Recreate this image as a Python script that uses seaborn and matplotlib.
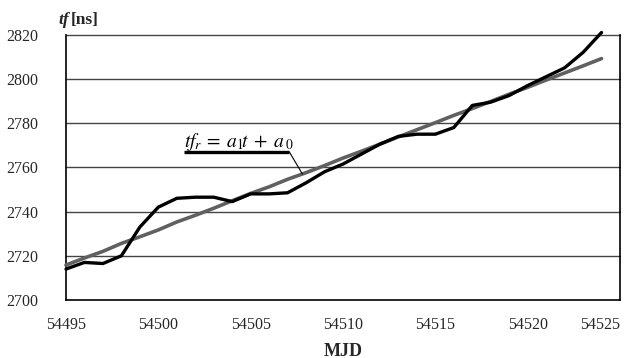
import matplotlib
matplotlib.use("Agg")
import matplotlib.pyplot as plt
import seaborn as sns
import pandas as pd

# --- dane ---
mjd = list(range(54495, 54525))
tf_measured = [2714, 2717, 2716.5, 2720, 2733, 2742, 2746, 2746.5, 2746.5, 2744.5,
               2748, 2748, 2748.5, 2753, 2758, 2761.5, 2766, 2770.5, 2774, 2775,
               2775, 2778, 2788, 2789.5, 2792.5, 2797, 2801, 2805, 2812, 2821]
tf_fit = [2715.8, 2719.0, 2722.0, 2725.6, 2728.6, 2731.7, 2735.3, 2738.3, 2741.5, 2744.9,
          2748.2, 2751.2, 2754.6, 2757.6, 2760.8, 2764.2, 2767.3, 2770.5, 2773.8, 2777.0,
          2780.2, 2783.5, 2786.6, 2789.8, 2793.1, 2796.2, 2799.5, 2802.7, 2805.9, 2809.2]
x_ticks = [54495, 54500, 54505, 54510, 54515, 54520, 54525]
y_ticks = [2700, 2720, 2740, 2760, 2780, 2800, 2820]

df = pd.DataFrame({'MJD': mjd, 'tf': tf_measured, 'tf_r': tf_fit})

sns.set_style("white")
plt.rcParams['font.family'] = ['Liberation Serif', 'DejaVu Serif']
plt.rcParams['mathtext.fontset'] = 'stix'

fig = plt.figure(figsize=(6.31, 3.58), dpi=100)
ax = fig.add_axes([66 / 631, 58 / 358, 554 / 631, 265.3 / 358])

for y in y_ticks[1:]:
    ax.axhline(y, color='#444444', lw=1.0, zorder=1, clip_on=False)

sns.lineplot(data=df, x='MJD', y='tf', ax=ax, color='black', lw=2.4, zorder=4,
             clip_on=False, solid_capstyle='round')
sns.lineplot(data=df, x='MJD', y='tf_r', ax=ax, color='#606060', lw=2.6, zorder=3,
             clip_on=False, solid_capstyle='round')

ax.set_xlim(54495, 54525)
ax.set_ylim(2700, 2820)
ax.set_xticks(x_ticks)
ax.set_yticks(y_ticks)
ax.tick_params(axis='both', labelsize=11.5, length=6, width=1, color='black',
               direction='out')
ax.tick_params(axis='x', pad=6)
ax.tick_params(axis='y', pad=14)
ax.get_xticklabels()[-1].set_horizontalalignment('right')
ax.set_xlabel('')
ax.set_ylabel('')

for side in ['left', 'bottom', 'right']:
    ax.spines[side].set_color('black')
    ax.spines[side].set_linewidth(1.2)
ax.spines['top'].set_visible(False)

# etykiety osi
fig.text(343 / 631, 1 - 351 / 358, 'MJD', ha='center', va='center',
         fontsize=13, fontweight='bold')
fig.text(58 / 631, 1 - 20 / 358, 'tf', ha='left', va='center',
         fontsize=12.5, fontweight='bold', fontstyle='italic')
fig.text(71 / 631, 1 - 20 / 358, '[ns]', ha='left', va='center',
         fontsize=12.5, fontweight='bold')

# opis prostej regresji
ax.text(54501.4, 2769.0, r'$tf_r\,=\;a_1\!t\;+\;a_{\,0}$', fontsize=14, ha='left',
        va='baseline', color='black')
ax.plot([54501.4, 54507.1], [2766.9, 2766.9], color='black', lw=2.4,
        solid_capstyle='butt', zorder=5)
ax.plot([54507.1, 54507.8], [2766.9, 2757.0], color='black', lw=0.8, zorder=5)

fig.savefig('out.png', dpi=100)
